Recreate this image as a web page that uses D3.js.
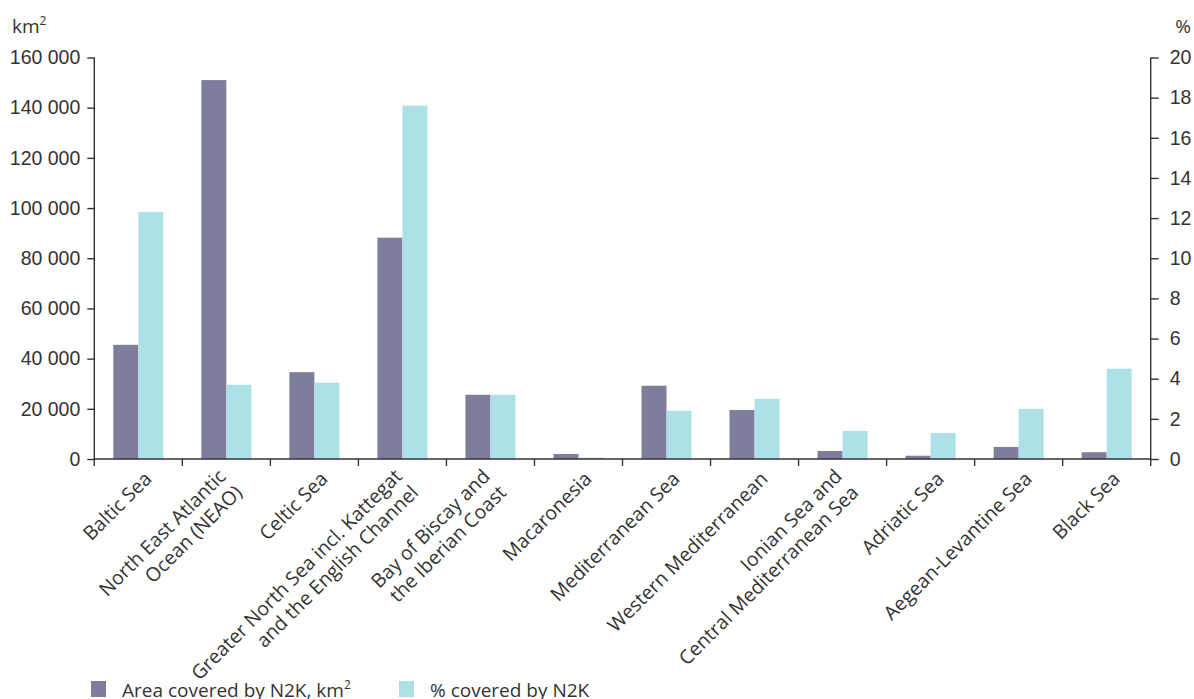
<!DOCTYPE html>
<html>
<head>
<meta charset="utf-8">
<script src="https://cdn.jsdelivr.net/npm/d3@7"></script>
<style>
  body { margin: 0; background: #fff; }
  svg { font-family: "Open Sans", sans-serif; }
  .axis path, .axis line { stroke: #333; stroke-width: 1.4; }
  .axis text { fill: #333; font-size: 19.5px; }
</style>
</head>
<body>
<div id="chart"></div>
<script>
// Categories (multi-line labels split by "|")
const regions = [
  "Baltic Sea",
  "North East Atlantic|Ocean (NEAO)",
  "Celtic Sea",
  "Greater North Sea incl. Kattegat|and the English Channel",
  "Bay of Biscay and|the Iberian Coast",
  "Macaronesia",
  "Mediterranean Sea",
  "Western Mediterranean",
  "Ionian Sea and|Central Mediterranean Sea",
  "Adriatic Sea",
  "Aegean-Levantine Sea",
  "Black Sea"
];
// Area covered by N2K, km2 (left axis)
const areaKm2 = [45500, 151000, 34600, 88200, 25600, 2000, 29200, 19500, 3200, 1300, 4800, 2700];
// % covered by N2K (right axis)
const pctCovered = [12.3, 3.7, 3.8, 17.6, 3.2, 0.07, 2.4, 3.0, 1.4, 1.3, 2.5, 4.5];

const leftTicks = [0, 20000, 40000, 60000, 80000, 100000, 120000, 140000, 160000];
const rightTicks = [0, 2, 4, 6, 8, 10, 12, 14, 16, 18, 20];

const W = 1194, H = 699;
const margin = {top: 57.5, right: 43.3, bottom: 240, left: 94.3};
const innerW = W - margin.left - margin.right;
const innerH = H - margin.top - margin.bottom;

const colArea = "#7f7d9c";
const colPct = "#aee0e8";

const svg = d3.select("#chart").append("svg")
    .attr("width", W)
    .attr("height", H);

const g = svg.append("g")
    .attr("transform", `translate(${margin.left},${margin.top})`);

// scales
const x = d3.scaleBand()
    .domain(regions)
    .range([0, innerW]);

const x1 = d3.scaleBand()
    .domain(["area", "pct"])
    .range([x.bandwidth() * 0.216, x.bandwidth() * 0.784]);

const yL = d3.scaleLinear().domain([0, 160000]).range([innerH, 0]);
const yR = d3.scaleLinear().domain([0, 20]).range([innerH, 0]);

const fmt = v => d3.format(",")(v).replace(/,/g, " ");

// left axis
g.append("g")
    .attr("class", "axis")
    .call(d3.axisLeft(yL).tickValues(leftTicks).tickFormat(fmt).tickSize(7).tickPadding(7))
    .call(a => a.select(".domain").attr("d", `M0,${innerH}V0`));

// right axis
g.append("g")
    .attr("class", "axis")
    .attr("transform", `translate(${innerW},0)`)
    .call(d3.axisRight(yR).tickValues(rightTicks).tickSize(8).tickPadding(11))
    .call(a => a.select(".domain").attr("d", `M0,${innerH}V0`));

// bars
const rows = regions.map((r, i) => ({region: r, area: areaKm2[i], pct: pctCovered[i]}));

const grp = g.selectAll(".grp")
    .data(rows)
    .enter().append("g")
    .attr("transform", d => `translate(${x(d.region)},0)`);

grp.append("rect")
    .attr("x", x1("area"))
    .attr("width", x1.bandwidth())
    .attr("y", d => yL(d.area))
    .attr("height", d => innerH - yL(d.area))
    .attr("fill", colArea);

grp.append("rect")
    .attr("x", x1("pct"))
    .attr("width", x1.bandwidth())
    .attr("y", d => yR(d.pct))
    .attr("height", d => innerH - yR(d.pct))
    .attr("fill", colPct);

// x axis with ticks on the category boundaries
const xAxis = g.append("g")
    .attr("class", "axis")
    .attr("transform", `translate(0,${innerH})`);

xAxis.append("path")
    .attr("d", `M0,0H${innerW}`);

const bounds = regions.map(r => x(r)).concat([x.range()[1]]);
xAxis.selectAll(".btick")
    .data(bounds)
    .enter().append("line")
    .attr("x1", d => d).attr("x2", d => d)
    .attr("y1", 0).attr("y2", 7);

// rotated category labels
const lineH = 23;
const lab = xAxis.selectAll(".lab")
    .data(regions)
    .enter().append("text")
    .attr("transform", d => `translate(${x(d) + x.bandwidth() / 2 + 14.5},${21}) rotate(-45)`)
    .attr("text-anchor", "end")
    .attr("fill", "#333")
    .style("font-size", "19.5px");

lab.each(function(d) {
  const lines = d.split("|");
  const n = lines.length;
  d3.select(this).selectAll("tspan")
      .data(lines)
      .enter().append("tspan")
      .attr("x", n > 1 ? -8 : 0)
      .attr("y", (l, i) => (i - (n - 1) / 2) * lineH)
      .text(l => l);
});

// unit labels
svg.append("text")
    .attr("x", 12).attr("y", 33)
    .attr("fill", "#333").style("font-size", "19px")
    .html('km<tspan dy="-8" style="font-size:12px">2</tspan>');

svg.append("text")
    .attr("x", 1191).attr("y", 33)
    .attr("text-anchor", "end")
    .attr("fill", "#333").style("font-size", "19px")
    .text("%");

// legend
const legend = svg.append("g").attr("transform", "translate(91,681)");
const items = [
  {label: 'Area covered by N2K, km<tspan dy="-8" style="font-size:12px">2</tspan>', color: colArea, dx: 0},
  {label: "% covered by N2K", color: colPct, dx: 308}
];
const li = legend.selectAll(".li")
    .data(items)
    .enter().append("g")
    .attr("transform", d => `translate(${d.dx},0)`);
li.append("rect")
    .attr("width", 15).attr("height", 16)
    .attr("fill", d => d.color);
li.append("text")
    .attr("x", 31).attr("y", 16)
    .attr("fill", "#333").style("font-size", "19px")
    .html(d => d.label);
</script>
</body>
</html>
